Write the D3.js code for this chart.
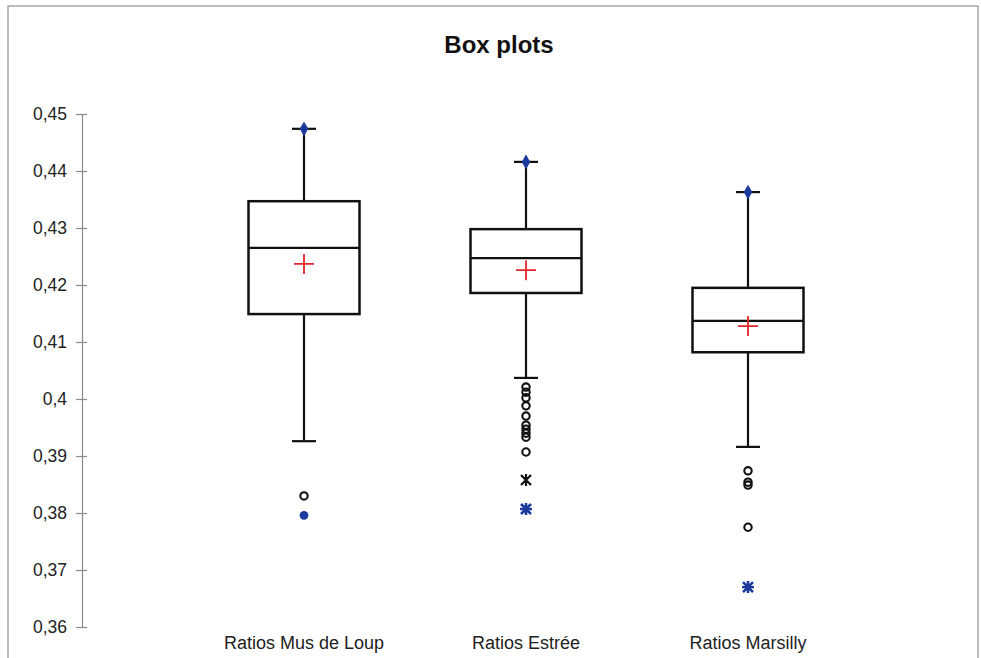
<!DOCTYPE html>
<html>
<head>
<meta charset="utf-8">
<script src="https://cdn.jsdelivr.net/npm/d3@7"></script>
<style>
  html, body { margin: 0; padding: 0; background: #fff; }
  svg { display: block; }
  text { font-family: "Liberation Sans", Arial, sans-serif; }
</style>
</head>
<body>
<svg id="chart" width="981" height="658"></svg>
<script>
// Summary statistics of each ratio series
const categories   = ["Ratios Mus de Loup", "Ratios Estrée", "Ratios Marsilly"];
const minimum      = [0.3796, 0.3807, 0.3670];
const lowerWhisker = [0.3926, 0.4037, 0.3916];
const q1           = [0.4149, 0.4186, 0.4082];
const median       = [0.4265, 0.4247, 0.4137];
const q3           = [0.4347, 0.4298, 0.4195];
const maximum      = [0.4474, 0.4416, 0.4363];
const mean         = [0.4237, 0.4226, 0.4128];
// points outside the whiskers (open circles) and far points (asterisks)
const outliers     = [
  [0.3830],
  [0.4021, 0.4012, 0.4002, 0.3988, 0.3970, 0.3954, 0.3947, 0.3940, 0.3933, 0.3907],
  [0.3874, 0.3854, 0.3849, 0.3775]
];
const farOutliers  = [[], [0.3858], []];
// the minimum is drawn as a filled dot when it is a plain outlier, as an asterisk when far
const minIsFar     = [false, true, true];
const yTicks       = [0.36, 0.37, 0.38, 0.39, 0.40, 0.41, 0.42, 0.43, 0.44, 0.45];
const title        = "Box plots";

const svg = d3.select("#chart");
const blue = "#1b3a9c", red = "#e3262b";

// outer frame
svg.append("rect").attr("x", 8).attr("y", 6).attr("width", 970).attr("height", 660)
  .attr("fill", "none").attr("stroke", "#a8a8a8").attr("stroke-width", 1.5);

svg.append("text").attr("x", 499).attr("y", 53).attr("text-anchor", "middle")
  .attr("font-size", 24).attr("font-weight", "bold").attr("fill", "#111").text(title);

const y = d3.scaleLinear().domain([0.36, 0.45]).range([627, 114]);
const x = d3.scalePoint().domain(categories).range([82, 970]).padding(1);
const boxW = 111, capW = 24;

const fr = d3.formatLocale({decimal: ",", thousands: " ", grouping: [3], currency: ["", ""]});
const yAxis = d3.axisLeft(y).tickValues(yTicks).tickFormat(fr.format(".2~f"))
  .tickSizeInner(6).tickSizeOuter(0).tickPadding(9);
const ax = svg.append("g").attr("transform", "translate(82,0)").call(yAxis);
ax.select(".domain").attr("stroke", "#8a8a8a").attr("stroke-width", 1.2);
ax.selectAll(".tick line").attr("x1", 5).attr("stroke", "#8a8a8a").attr("stroke-width", 1.2);
ax.selectAll(".tick text").attr("font-size", 17.5).attr("fill", "#222")
  .style("font-family", "'Liberation Sans', Arial, sans-serif");

// category labels
svg.append("g").selectAll("text").data(categories).join("text")
  .attr("x", d => x(d)).attr("y", 649).attr("text-anchor", "middle")
  .attr("font-size", 18).attr("fill", "#222").text(d => d);

const g = svg.append("g");
categories.forEach((c, i) => {
  const cx = x(c);
  const line = (x1, y1, x2, y2) => g.append("line")
    .attr("x1", x1).attr("y1", y1).attr("x2", x2).attr("y2", y2)
    .attr("stroke", "#111").attr("stroke-width", 2.2);
  // whiskers and caps
  line(cx, y(maximum[i]), cx, y(q3[i]));
  line(cx, y(q1[i]), cx, y(lowerWhisker[i]));
  line(cx - capW / 2, y(maximum[i]), cx + capW / 2, y(maximum[i]));
  line(cx - capW / 2, y(lowerWhisker[i]), cx + capW / 2, y(lowerWhisker[i]));
  // box
  g.append("rect").attr("x", cx - boxW / 2).attr("y", y(q3[i]))
    .attr("width", boxW).attr("height", y(q1[i]) - y(q3[i]))
    .attr("fill", "none").attr("stroke", "#111").attr("stroke-width", 2.5);
  line(cx - boxW / 2, y(median[i]), cx + boxW / 2, y(median[i]));
  // mean
  g.append("path").attr("transform", `translate(${cx},${y(mean[i])})`)
    .attr("d", "M-10,0H10M0,-10V10").attr("stroke", red).attr("stroke-width", 1.8).attr("fill", "none");
  // maximum marker
  g.append("path").attr("transform", `translate(${cx},${y(maximum[i])})`)
    .attr("d", d3.symbol(d3.symbolDiamond, 64)()).attr("fill", blue);
  // outliers
  g.selectAll(null).data(outliers[i]).join("circle")
    .attr("cx", cx).attr("cy", d => y(d)).attr("r", 3.7)
    .attr("fill", "none").attr("stroke", "#111").attr("stroke-width", 2.1);
  const star = (v, col, w) => g.append("path").attr("transform", `translate(${cx},${y(v)})`)
    .attr("d", "M-5,-5L5,5M-5,5L5,-5M0,-6V6").attr("stroke", col).attr("stroke-width", w)
    .attr("fill", "none");
  farOutliers[i].forEach(v => star(v, "#111", 2.2));
  // minimum marker
  if (minIsFar[i]) {
    star(minimum[i], blue, 2.6);
    g.append("path").attr("transform", `translate(${cx},${y(minimum[i])})`)
      .attr("d", "M-6,0H6").attr("stroke", blue).attr("stroke-width", 2.4);
    g.append("circle").attr("cx", cx).attr("cy", y(minimum[i])).attr("r", 2.5).attr("fill", blue);
  } else {
    g.append("circle").attr("cx", cx).attr("cy", y(minimum[i])).attr("r", 4.4).attr("fill", blue);
  }
});
</script>
</body>
</html>
